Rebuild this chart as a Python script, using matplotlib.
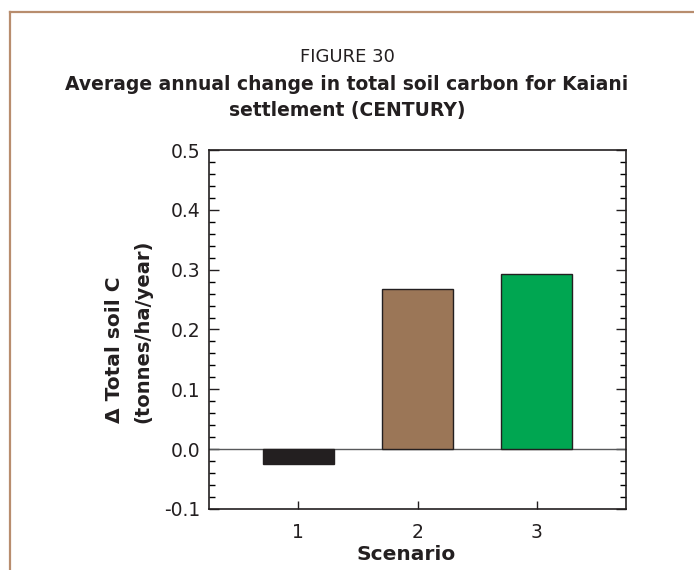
import matplotlib
matplotlib.use("Agg")
import matplotlib.pyplot as plt
from matplotlib.lines import Line2D
from matplotlib.ticker import MultipleLocator, FixedLocator

# data
scenarios = [1, 2, 3]
soil_c_change = [-0.024, 0.267, 0.293]
bar_colors = ['#231f20', '#9b7657', '#00a651']
ytick_vals = [-0.1, 0.0, 0.1, 0.2, 0.3, 0.4, 0.5]
ytick_labels = ['-0.1', '0.0', '0.1', '0.2', '0.3', '0.4', '0.5']

fig = plt.figure(figsize=(6.94, 5.70), dpi=100)
W, H = 694, 570
ink = '#231f20'

# brown frame (top and left edges)
frame_col = '#b88d6e'
fig.add_artist(Line2D([10 / W, 1.0], [1 - 12 / H, 1 - 12 / H], color=frame_col, lw=1.6,
                      transform=fig.transFigure))
fig.add_artist(Line2D([10 / W, 10 / W], [0.0, 1 - 12 / H], color=frame_col, lw=1.6,
                      transform=fig.transFigure))

# titles
fig.text(347 / W, 1 - 57 / H, 'FIGURE 30', ha='center', va='center',
         fontsize=13, family='DejaVu Sans', color=ink)
fig.text(347 / W, 1 - 84 / H, 'Average annual change in total soil carbon for Kaiani',
         ha='center', va='center', fontsize=13.5, family='DejaVu Sans', weight='bold', color=ink)
fig.text(347 / W, 1 - 111 / H, 'settlement (CENTURY)',
         ha='center', va='center', fontsize=13.5, family='DejaVu Sans', weight='bold', color=ink)

ax = fig.add_axes([209 / W, 1 - 509 / H, 417 / W, 359 / H])
ax.bar(scenarios, soil_c_change, width=0.6, color=bar_colors,
       edgecolor=ink, linewidth=1.0, zorder=3)
ax.axhline(0, color='#58595b', lw=1.0, zorder=2)

ax.set_xlim(0.25, 3.75)
ax.set_ylim(-0.1, 0.5)
ax.set_xticks(scenarios)
ax.set_xticklabels([str(s) for s in scenarios])
ax.yaxis.set_major_locator(FixedLocator(ytick_vals))
ax.set_yticklabels(ytick_labels)
ax.yaxis.set_minor_locator(MultipleLocator(0.02))

for s in ax.spines.values():
    s.set_linewidth(1.2)
    s.set_color(ink)

ax.tick_params(axis='y', which='both', direction='in', left=True, right=True)
ax.tick_params(axis='y', which='major', length=7, width=1.0, pad=6)
ax.tick_params(axis='y', which='minor', length=4, width=1.0)
ax.tick_params(axis='x', which='both', direction='in', bottom=True, top=False,
               length=6, width=1.0, pad=10)
ax.tick_params(labelsize=13.5, colors=ink)
for lab in ax.get_xticklabels() + ax.get_yticklabels():
    lab.set_family('DejaVu Sans')

# axis titles placed as figure text to follow the reference positions
fig.text(406 / W, 1 - 554 / H, 'Scenario', ha='center', va='center',
         fontsize=14.5, weight='bold', family='DejaVu Sans', color=ink)
fig.text(115 / W, 1 - 423 / H, '\u0394 Total soil C', ha='center', va='bottom',
         rotation=90, fontsize=14.5, weight='bold', family='DejaVu Sans', color=ink)
fig.text(143 / W, 1 - 423 / H, '(tonnes/ha/year)', ha='center', va='bottom',
         rotation=90, fontsize=14, weight='bold', family='DejaVu Sans', color=ink)

fig.savefig('out.png', dpi=100)
